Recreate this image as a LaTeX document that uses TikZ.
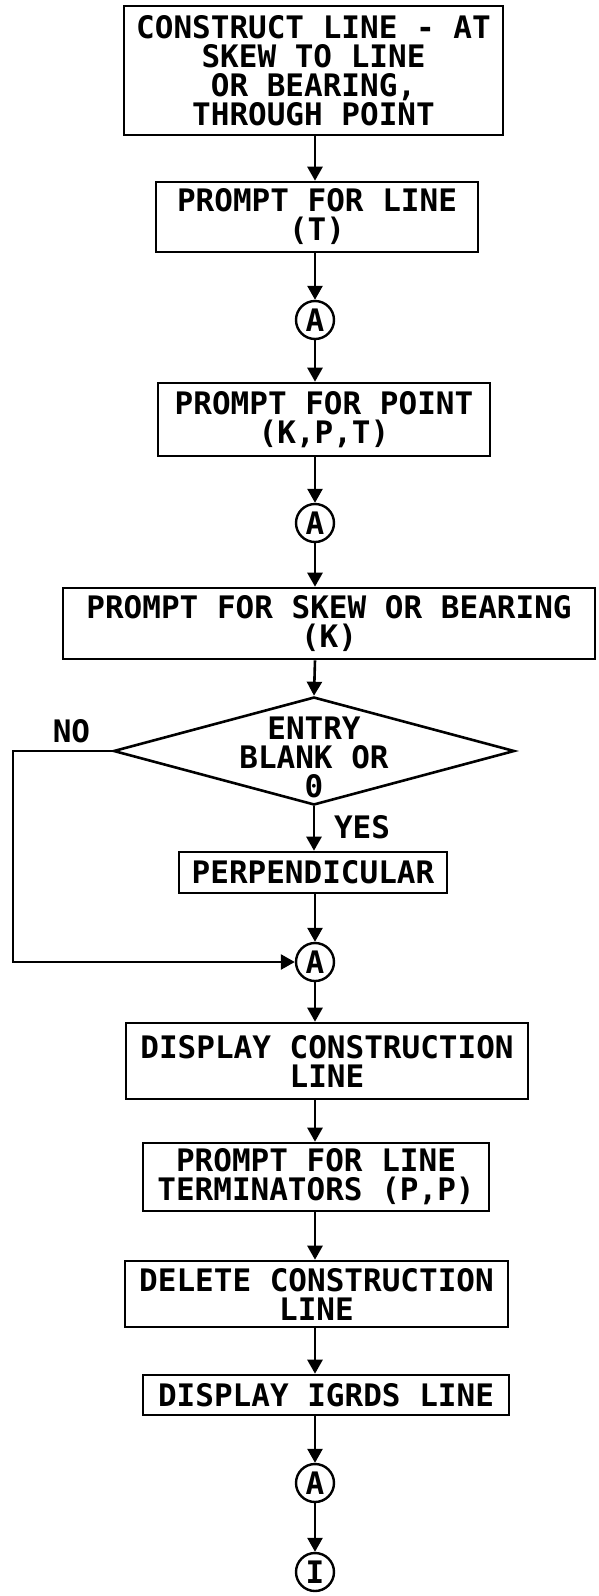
\documentclass[tikz,border=0pt]{standalone}
\usepackage{fontspec}
\newfontfamily\plotfont{DejaVu Sans Mono}
\usetikzlibrary{
  shapes.geometric,
  arrows.meta
}
\definecolor{PlotInk}{RGB}{0, 0, 0}
\tikzset{
    plottext/.style={font=\plotfont\bfseries\fontsize{31}{29}\selectfont, text=PlotInk},
    box/.style={rectangle, draw=PlotInk, line width=2.6pt, inner sep=0pt, align=center, plottext},
    joint/.style={circle, draw=PlotInk, line width=2.4pt, minimum size=38pt, inner sep=0pt, plottext},
    decision/.style={diamond, draw=PlotInk, line width=2.6pt, inner sep=0pt, minimum width=401pt, minimum height=108pt},
    flow/.style={draw=PlotInk, line width=2.6pt, -{Triangle[length=14pt, width=15pt]}}
}

\begin{document}
\begin{tikzpicture}[x=1pt, y=-1pt]
    \useasboundingbox (0,0) rectangle (599,1596);
    \coordinate (spine) at (315,0);
    \coordinate (leftrail) at (13,0);

    \node[box, minimum width=379pt, minimum height=129pt] (construct) at (313.5,70.5) {CONSTRUCT LINE - AT\\SKEW TO LINE\\OR BEARING,\\THROUGH POINT};
    \node[box, minimum width=322pt, minimum height=70pt] (askline) at (317,217) {PROMPT FOR LINE\\(T)};
    \node[joint] (a1) at (315,320) {A};
    \node[box, minimum width=332pt, minimum height=73pt] (askpoint) at (324,419.5) {PROMPT FOR POINT\\(K,P,T)};
    \node[joint] (a2) at (315,523) {A};
    \node[box, minimum width=532pt, minimum height=71pt] (askskew) at (329,623.5) {PROMPT FOR SKEW OR BEARING\\(K)};
    \node[decision, label={[plottext, align=center, yshift=-6pt]center:{ENTRY\\BLANK OR\\0}}] (entry) at (314,751) {};
    \node[plottext] (no) at (71.5,731) {NO};
    \node[plottext] (yes) at (362,827) {YES};
    \node[box, minimum width=268pt, minimum height=41pt] (perp) at (313,872.5) {PERPENDICULAR};
    \node[joint] (a3) at (315,962) {A};
    \node[box, minimum width=402pt, minimum height=76pt] (showcons) at (327,1061) {DISPLAY CONSTRUCTION\\LINE};
    \node[box, minimum width=346pt, minimum height=68pt] (askterm) at (316,1177) {PROMPT FOR LINE\\TERMINATORS (P,P)};
    \node[box, minimum width=383pt, minimum height=66pt] (delcons) at (316.5,1294) {DELETE CONSTRUCTION\\LINE};
    \node[box, minimum width=366pt, minimum height=40pt] (showigrds) at (326,1395) {DISPLAY IGRDS LINE};
    \node[joint] (a4) at (315,1483) {A};
    \node[joint] (exit) at (315,1572) {I};

    \draw[flow] (construct.south -| spine) -- (askline.north -| spine);
    \draw[flow] (askline.south -| spine) -- (a1);
    \draw[flow] (a1) -- (askpoint.north -| spine);
    \draw[flow] (askpoint.south -| spine) -- (a2);
    \draw[flow] (a2) -- (askskew.north -| spine);
    \draw[flow] (askskew.south -| spine) -- (entry.north);
    \draw[flow] (entry.south) -- (perp.north -| entry.south);
    \draw[flow] (perp.south -| spine) -- (a3);
    \draw[flow] (entry.west) -- (entry.west -| leftrail) |- (a3.west);
    \draw[flow] (a3) -- (showcons.north -| spine);
    \draw[flow] (showcons.south -| spine) -- (askterm.north -| spine);
    \draw[flow] (askterm.south -| spine) -- (delcons.north -| spine);
    \draw[flow] (delcons.south -| spine) -- (showigrds.north -| spine);
    \draw[flow] (showigrds.south -| spine) -- (a4);
    \draw[flow] (a4) -- (exit);
\end{tikzpicture}
\end{document}
